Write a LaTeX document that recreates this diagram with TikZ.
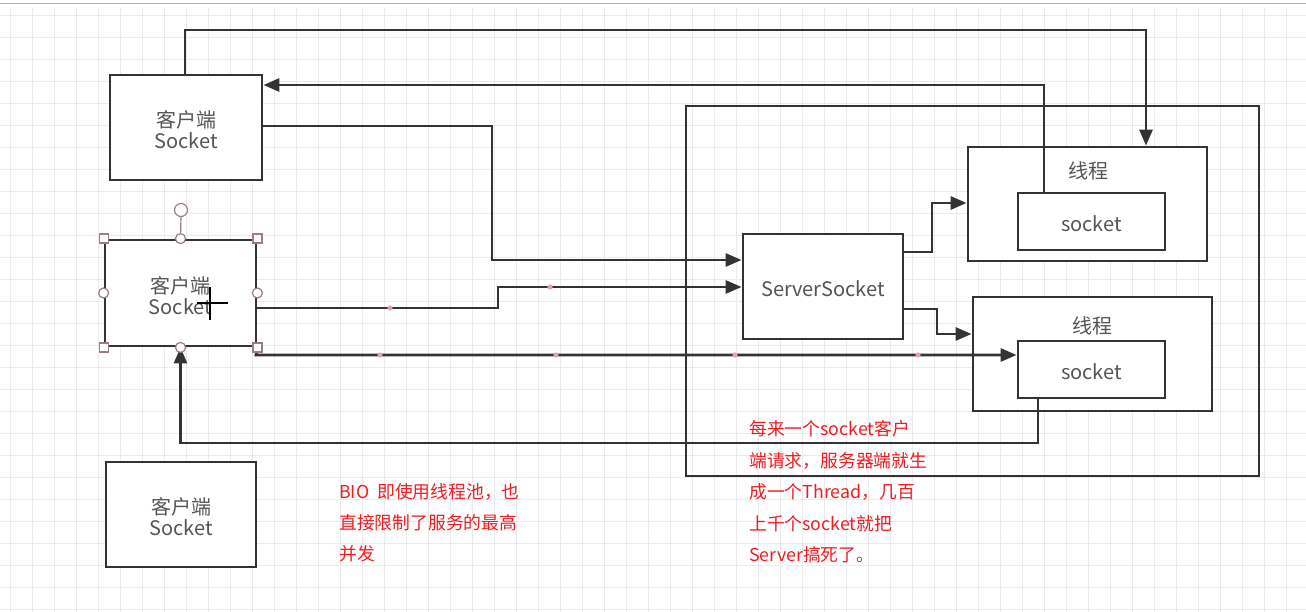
\documentclass[tikz,border=0pt]{standalone}
\usepackage{fontspec}
\setmainfont{Noto Sans CJK SC}
\usetikzlibrary{arrows.meta,calc}
\definecolor{ink}{HTML}{333333}
\definecolor{txt}{HTML}{555555}
\definecolor{redtxt}{HTML}{F41A22}
\definecolor{gridc}{HTML}{EBEBEB}
\definecolor{handle}{HTML}{9A7E80}
\definecolor{pinkdot}{HTML}{E7A0AE}
\tikzset{
  box/.style={draw=ink, line width=2.8pt, fill=white, inner sep=0pt, font=\fontsize{20}{24}\selectfont, text=txt, align=center},
  arr/.style={draw=ink, line width=2.8pt, -{Triangle[length=16pt,width=13pt]}},
  note/.style={anchor=west, inner sep=0pt, text=redtxt, font=\fontsize{17.8}{20}\selectfont},
  sq/.style={draw=handle, fill=white, line width=1.2pt, minimum size=9pt, inner sep=0pt},
  ci/.style={draw=handle, fill=white, line width=1.2pt, circle, minimum size=10pt, inner sep=0pt},
  lbl/.style={inner sep=0pt, text=txt, font=\fontsize{20}{24}\selectfont, align=center},
}
\begin{document}
\begin{tikzpicture}[x=1pt,y=-1pt]
\useasboundingbox (0,0) rectangle (1306,612);
\fill[white] (0,0) rectangle (1306,612);
% grid
\foreach \xx in {10,32,...,1306} {\draw[gridc, line width=0.8pt] (\xx,8) -- (\xx,612);}
\foreach \yy in {15,37,...,612} {\draw[gridc, line width=0.8pt] (0,\yy) -- (1306,\yy);}
\draw[gray!60, line width=1pt] (0,4) -- (1306,4);

% container
\node[draw=ink, line width=2.8pt, minimum width=573pt, minimum height=370pt, inner sep=0pt] (cont) at (972.5,291) {};

% client boxes
\node[box, minimum width=152pt, minimum height=105pt] (c1) at (186,127.5) {};
\node[lbl] (c1l) at (186,130) {客户端\\[-3pt]Socket};
\node[box, minimum width=151pt, minimum height=106pt] (c2) at (180.5,293) {};
\node[lbl] (c2l) at (180.5,295.5) {客户端\\[-3pt]Socket};
\node[box, minimum width=150pt, minimum height=105pt] (c3) at (181,514.5) {};
\node[lbl] (c3l) at (181,517) {客户端\\[-3pt]Socket};

% server socket
\node[box, minimum width=160pt, minimum height=105pt] (ss) at (823,286.5) {};
\node[lbl] (ssl) at (823,288.5) {ServerSocket};

% threads
\node[box, minimum width=239pt, minimum height=114pt] (t1) at (1087.5,204) {};
\node[lbl] (t1l) at (1088,171) {线程};
\node[box, minimum width=147pt, minimum height=57pt] (s1) at (1091.5,221.5) {};
\node[lbl] (s1l) at (1091.5,223.5) {socket};
\node[box, minimum width=239pt, minimum height=114pt] (t2) at (1092.5,354) {};
\node[lbl] (t2l) at (1092,326) {线程};
\node[box, minimum width=147pt, minimum height=57pt] (s2) at (1091.5,369.5) {};
\node[lbl] (s2l) at (1091.5,371.5) {socket};

% connectors
\coordinate (k1) at (1146,30);
\draw[arr] (c1.north -| 185,0) |- (k1) -- (t1.north -| k1);
\coordinate (k2) at (1044,85);
\draw[arr] (s1.north -| k2) -- (k2) -- (c1.east |- k2);
\coordinate (k3) at (492,126);
\coordinate (k3b) at (492,260);
\draw[arr] (c1.east |- k3) -- (k3) -- (k3b) -- (ss.west |- k3b);
\coordinate (k4) at (498,308);
\coordinate (k4b) at (498,287);
\draw[arr] (c2.east |- k4) -- (k4) -- (k4b) -- (ss.west |- k4b);
\coordinate (k5) at (256,355);
\draw[arr] (c2.south east) -- (k5) -- (s2.west |- k5);
\coordinate (k6) at (1038,443);
\draw[arr] (s2.south -| k6) -- (k6) -| (c2.south);
\coordinate (k7) at (932,252);
\coordinate (k7b) at (932,203);
\draw[arr] (ss.east |- k7) -- (k7) -- (k7b) -- (t1.west |- k7b);
\coordinate (k8) at (937,309);
\coordinate (k8b) at (937,334);
\draw[arr] (ss.east |- k8) -- (k8) -- (k8b) -- (t2.west |- k8b);

% pink waypoint marks
\foreach \px/\py in {390/308, 550/287, 380/355, 556/355, 735/355, 918/355}
  \fill[pinkdot] (\px,\py) circle (2.6pt);

% selection handles on c2
\draw[handle, line width=1.2pt] (c2.north) -- (181,216);
\node[ci, minimum size=13pt] (rot) at (181,210) {};
\foreach \a in {north west, north east, south west, south east}
  \node[sq] at (c2.\a) {};
\foreach \a in {north, south, west, east}
  \node[ci] at (c2.\a) {};

% cursor
\draw[black, line width=2.6pt] (210,287) -- (210,320);
\draw[black, line width=2.6pt] (197,303) -- (228,303);

% notes
\node[note] (r1) at (339,492) {BIO\ \ 即使用线程池，也};
\node[note] (r2) at (339,523) {直接限制了服务的最高};
\node[note] (r3) at (339,554) {并发};
\node[note] (q1) at (749,429) {每来一个socket客户};
\node[note] (q2) at (749,461) {端请求，服务器端就生};
\node[note] (q3) at (749,492) {成一个Thread，几百};
\node[note] (q4) at (749,524) {上千个socket就把};
\node[note] (q5) at (749,555) {Server搞死了。};
\end{tikzpicture}
\end{document}
